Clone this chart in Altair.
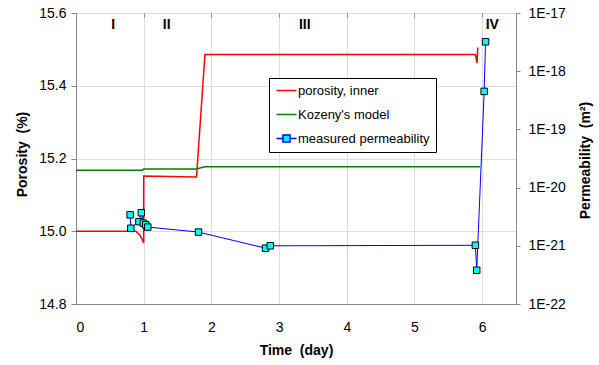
import altair as alt
import pandas as pd

# ---------------- data ----------------
series_names = ["porosity, inner", "Kozeny's model", "measured permeability"]
series_colors = ["#FF0000", "#008000", "#0000FF"]

por_time = [0.0, 0.886, 0.945, 0.98, 1.0, 1.0, 1.78, 1.905, 5.90, 5.925, 5.935]
por_val = [15.0, 15.0, 14.989, 14.977, 14.968, 15.152, 15.149, 15.486, 15.486, 15.462, 15.505]

koz_time = [0.0, 0.98, 1.0, 1.78, 1.9, 5.97]
koz_val = [15.168, 15.168, 15.171, 15.171, 15.177, 15.177]

perm_time = [0.80, 0.81, 0.93, 0.965, 0.995, 1.03, 1.06, 1.81, 2.80, 2.87, 5.90, 5.92, 6.03, 6.05]
perm_val = [3.4e-21, 2.0e-21, 2.6e-21, 3.7e-21, 2.45e-21, 2.3e-21, 2.1e-21, 1.72e-21,
            9.1e-22, 1.0e-21, 1.02e-21, 3.8e-22, 4.5e-19, 3.2e-18]

region_labels = ["I", "II", "III", "IV"]
region_time = [0.55, 1.34, 3.38, 6.15]
region_level = [15.567, 15.567, 15.567, 15.567]

x_ticks = [0, 1, 2, 3, 4, 5, 6]
por_ticks = [14.8, 15.0, 15.2, 15.4, 15.6]
perm_ticks = [1e-22, 1e-21, 1e-20, 1e-19, 1e-18, 1e-17]

# ---------------- tables ----------------
por_df = pd.DataFrame({"t": por_time, "v": por_val, "i": range(len(por_time))})
koz_df = pd.DataFrame({"t": koz_time, "v": koz_val, "i": range(len(koz_time))})
perm_df = pd.DataFrame({"t": perm_time, "k": perm_val, "i": range(len(perm_time))})
reg_df = pd.DataFrame({"t": region_time, "v": region_level, "label": region_labels})
leg_df = pd.DataFrame({"series": series_names, "t": [0.0] * 3, "v": [15.0] * 3})

FONT = "Liberation Sans"

x_scale = alt.Scale(domain=[0, 6.5], nice=False, zero=False)
x_enc = alt.X(
    "t:Q", scale=x_scale,
    axis=alt.Axis(
        values=x_ticks, format="d", ticks=False, labelPadding=16,
        labelFontSize=14, title="Time \u00a0(day)", titleFontSize=14,
        titleFontWeight="bold", titlePadding=9,
    ),
)
# inward tick marks on the bottom edge
x_enc_ticks = alt.X(
    "t:Q", scale=x_scale,
    axis=alt.Axis(values=x_ticks, offset=-4, tickSize=4, labels=False,
                  domain=False, title=None),
)

left_scale = alt.Scale(domain=[14.8, 15.6], nice=False, zero=False)
left_axis = alt.Axis(
    values=por_ticks, format=".1f", tickSize=5, labelPadding=5, labelFontSize=14,
    title="Porosity \u00a0(%)", titleFontSize=14, titleFontWeight="bold",
    titleAngle=270, titleBaseline="middle", titleAlign="center",
    titleX=-54, titleY=141,
)
y_left = alt.Y("v:Q", scale=left_scale, axis=left_axis)

right_scale = alt.Scale(type="log", domain=[1e-22, 1e-17], nice=False)
right_axis = alt.Axis(
    orient="right", values=perm_ticks,
    labelExpr="'1E' + round(log(datum.value) / LN10)",
    tickSize=4, labelPadding=8, labelFontSize=14,
    title="Permeability \u00a0(m\u00b2)", titleFontSize=14, titleFontWeight="bold",
    titleAngle=270, titleBaseline="middle", titleAlign="center",
    titleX=69, titleY=147,
)
y_right = alt.Y("k:Q", scale=right_scale, axis=right_axis)

legend = alt.Legend(
    title=None, orient="none", legendX=193, legendY=65,
    strokeColor="black", fillColor="white", padding=6,
    labelFont=FONT, labelFontSize=13, labelColor="black", labelLimit=400,
    symbolSize=100, symbolStrokeWidth=1.5, rowPadding=10, labelOffset=10,
    symbolOpacity=1, symbolFillColor="#00FFFF",
)
line_path = "M-1,0H3"
marker_path = "M-1,0H0.3M1.7,0H3M0.3,-0.7H1.7V0.7H0.3Z"

red = alt.Chart(por_df).mark_line(color=series_colors[0], strokeWidth=1.5).encode(
    x=x_enc, y=y_left, order="i:Q")
green = alt.Chart(koz_df).mark_line(color=series_colors[1], strokeWidth=1.5).encode(
    x=x_enc, y=y_left, order="i:Q")
regions = alt.Chart(reg_df).mark_text(
    font=FONT, fontSize=14, fontWeight="bold", color="black", baseline="middle"
).encode(x=x_enc, y=y_left, text="label:N")
dummy = alt.Chart(leg_df).mark_point(
    opacity=0, filled=True, fill="#00FFFF", strokeWidth=1.5
).encode(
    x=x_enc, y=y_left,
    stroke=alt.Stroke("series:N", scale=alt.Scale(domain=series_names, range=series_colors),
                      sort=None, legend=legend),
    shape=alt.Shape("series:N", scale=alt.Scale(domain=series_names,
                                                range=[line_path, line_path, marker_path]),
                    sort=None, legend=legend),
)
left = alt.layer(red, green, regions, dummy)

blue_line = alt.Chart(perm_df).mark_line(color=series_colors[2], strokeWidth=1).encode(
    x=x_enc_ticks, y=y_right, order="i:Q")
blue_pts = alt.Chart(perm_df).mark_point(
    shape="square", filled=True, fill="#00FFFF", stroke="black", strokeWidth=1,
    size=42, opacity=1
).encode(x=x_enc_ticks, y=y_right)
right = alt.layer(blue_line, blue_pts)

chart = alt.layer(left, right).resolve_scale(y="independent").resolve_axis(
    x="independent"
).properties(
    width=440, height=291,
    autosize=alt.AutoSizeParams(type="none"),
    padding={"left": 76, "top": 13, "right": 83, "bottom": 61},
).configure_view(
    stroke="black", strokeWidth=1.5
).configure_axis(
    grid=False, domainColor="black", domainWidth=1.5, tickColor="black",
    labelColor="black", titleColor="black", labelFont=FONT, titleFont=FONT,
).configure(background="white")

chart.save("out.html", embed_options={"renderer": "svg", "actions": False})
